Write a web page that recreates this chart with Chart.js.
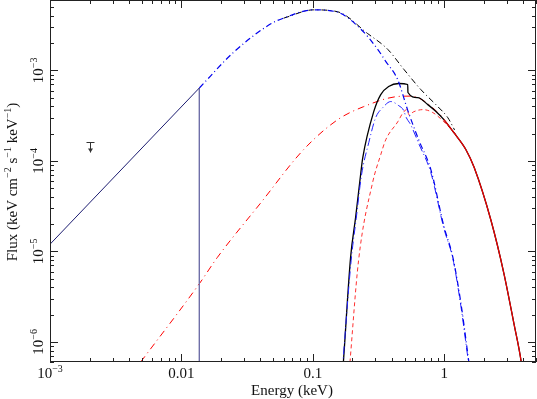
<!DOCTYPE html>
<html>
<head>
<meta charset="utf-8">
<script src="https://cdn.jsdelivr.net/npm/chart.js@4.4.0/dist/chart.umd.min.js"></script>
<style>
    html, body { margin: 0; padding: 0; background: #fff; }
    #wrap { width: 537px; height: 399px; }
</style>
</head>
<body>
<div id="wrap"><canvas id="spec" width="537" height="399"></canvas></div>
<script>
// Energy in keV, flux in keV cm^-2 s^-1 keV^-1

// power-law extension below the cut (solid) and the cut itself
const powE = [0.001, 0.0137];
const powF = [1.2e-5, 6.4e-4];
const cutE = [0.0137, 0.0137];
const cutF = [6.4e-4, 3e-7];

// cool component, unabsorbed (blue dash-dot)
const blueE = [0.0137, 0.0249, 0.0476, 0.0598, 0.1014, 0.1545, 0.232, 0.312, 0.359, 0.443, 0.529, 0.641, 0.792, 0.995, 1.165, 1.34, 1.52, 1.6];
const blueF = [6.4e-4, 1.58e-3, 3.25e-3, 3.78e-3, 4.67e-3, 4.4e-3, 2.86e-3, 1.71e-3, 1.26e-3, 7.9e-4, 3.6e-4, 1.7e-4, 8.0e-5, 1.9e-5, 8.6e-6, 2.7e-6, 7e-7, 4e-7];

// cool component, absorbed (blue dashed)
const blueAbsE = [0.168, 0.196, 0.214, 0.235, 0.267, 0.301, 0.341, 0.392, 0.451, 0.493, 0.51, 0.557, 0.641, 0.792, 0.995, 1.165, 1.34, 1.52, 1.6];
const blueAbsF = [5e-7, 8.0e-6, 2.3e-5, 7.0e-5, 1.6e-4, 3.0e-4, 3.88e-4, 4.53e-4, 4.08e-4, 3.59e-4, 3.1e-4, 2.5e-4, 1.55e-4, 7.4e-5, 1.8e-5, 8.3e-6, 2.5e-6, 6.5e-7, 4e-7];

// hot component, unabsorbed (red dash-dot)
const redE = [0.0049, 0.0137, 0.0188, 0.04, 0.085, 0.155, 0.244, 0.443, 0.55, 0.63, 0.75, 0.9, 1.0];
const redF = [6e-7, 4.4e-6, 8.6e-6, 3.41e-5, 1.33e-4, 2.86e-4, 3.98e-4, 5.15e-4, 5.2e-4, 5.0e-4, 4.3e-4, 3.4e-4, 2.9e-4];

// hot component, absorbed (red dashed)
const redAbsE = [0.19, 0.223, 0.286, 0.329, 0.359, 0.443, 0.493, 0.525, 0.538, 0.588, 0.689, 0.82, 0.995, 1.23];
const redAbsF = [5e-7, 7.9e-6, 5.85e-5, 1.17e-4, 1.71e-4, 2.7e-4, 3.5e-4, 3.7e-4, 3.24e-4, 3.5e-4, 3.69e-4, 3.42e-4, 2.71e-4, 1.95e-4];

// total, unabsorbed (black dash-dot)
const totE = [0.06, 0.1014, 0.1545, 0.262, 0.372, 0.493, 0.664, 0.895, 1.067, 1.2];
const totF = [3.78e-3, 4.67e-3, 4.45e-3, 2.55e-3, 1.71e-3, 1.03e-3, 6.15e-4, 3.98e-4, 3.0e-4, 2.2e-4];

// total, absorbed (black solid)
const totAbsE = [0.165, 0.171, 0.194, 0.212, 0.232, 0.240, 0.291, 0.329, 0.378, 0.451, 0.528, 0.530, 0.630, 0.751, 0.85, 0.995, 1.186, 1.465, 1.69, 2.27, 2.85, 3.40, 3.85, 4.0];
const totAbsF = [3e-7, 6e-7, 8.6e-6, 2.39e-5, 7.36e-5, 1.08e-4, 3.5e-4, 5.41e-4, 6.64e-4, 7.17e-4, 6.99e-4, 5.7e-4, 5.0e-4, 4.19e-4, 3.6e-4, 2.86e-4, 2.05e-4, 1.33e-4, 8.5e-5, 2.21e-5, 5.7e-6, 1.58e-6, 6.15e-7, 4e-7];

// hot component at high energy (red solid)
const hotE = [0.995, 1.186, 1.465, 1.69, 2.27, 2.85, 3.40, 3.85, 4.0];
const hotF = [2.86e-4, 2.05e-4, 1.33e-4, 8.5e-5, 2.21e-5, 5.7e-6, 1.58e-6, 6.15e-7, 4e-7];

// upper limit data point
const limE = [0.002];
const limF = [1.63e-4];

const xTicks = [0.001, 0.01, 0.1, 1];
const xTickLabels = ['10^{−3}', '0.01', '0.1', '1'];
const yTicks = [1e-3, 1e-4, 1e-5, 1e-6];
const yTickLabels = ['10^{−3}', '10^{−4}', '10^{−5}', '10^{−6}'];

const SERIF = '"Liberation Serif", "DejaVu Serif", serif';

function pts(xs, ys) {
    return xs.map((x, i) => ({ x: x, y: ys[i] }));
}

function curve(label, xs, ys, color, dash, width) {
    return {
        label: label,
        data: pts(xs, ys),
        borderColor: color,
        borderWidth: width || 1,
        borderDash: dash || [],
        pointRadius: 0,
        fill: false,
        cubicInterpolationMode: 'monotone'
    };
}

// text with ^{...} superscripts
function richParts(str) {
    const parts = [];
    const re = /\^\{([^}]*)\}/g;
    let last = 0, m;
    while ((m = re.exec(str)) !== null) {
        if (m.index > last) parts.push({ t: str.slice(last, m.index), sup: false });
        parts.push({ t: m[1], sup: true });
        last = re.lastIndex;
    }
    if (last < str.length) parts.push({ t: str.slice(last), sup: false });
    return parts;
}

function drawRich(ctx, str, x, y, size) {
    const parts = richParts(str);
    const supSize = Math.round(size * 0.68);
    let w = 0;
    parts.forEach(p => {
        ctx.font = (p.sup ? supSize : size) + 'px ' + SERIF;
        p.w = ctx.measureText(p.t).width;
        w += p.w;
    });
    let cx = x - w / 2;
    ctx.textAlign = 'left';
    ctx.textBaseline = 'alphabetic';
    parts.forEach(p => {
        ctx.font = (p.sup ? supSize : size) + 'px ' + SERIF;
        ctx.fillText(p.t, cx, p.sup ? y - size * 0.42 : y);
        cx += p.w;
    });
}

function minorsOf(min, max) {
    const out = [];
    for (let d = Math.floor(Math.log10(min)); d <= Math.ceil(Math.log10(max)); d++) {
        for (let k = 1; k <= 9; k++) {
            const v = k * Math.pow(10, d);
            if (v >= min && v <= max) out.push({ v: v, major: k === 1 });
        }
    }
    return out;
}

const framePlugin = {
    id: 'frame',
    afterDatasetsDraw(chart) {
        const ctx = chart.ctx;
        const a = chart.chartArea;
        const xs = chart.scales.x;
        const ys = chart.scales.y;
        ctx.save();

        // upper limit marker
        const ux = Math.round(xs.getPixelForValue(limE[0])) + 0.5;
        const uy = Math.round(ys.getPixelForValue(limF[0])) + 0.5;
        ctx.strokeStyle = '#333';
        ctx.lineWidth = 1;
        ctx.beginPath();
        ctx.moveTo(ux - 4, uy); ctx.lineTo(ux + 4, uy);
        ctx.moveTo(ux, uy); ctx.lineTo(ux, uy + 10);
        ctx.stroke();
        ctx.beginPath();
        ctx.moveTo(ux - 2.5, uy + 6); ctx.lineTo(ux + 2.5, uy + 6); ctx.lineTo(ux, uy + 10); ctx.closePath();
        ctx.fillStyle = '#333';
        ctx.fill();

        // box
        ctx.strokeStyle = '#222';
        ctx.lineWidth = 1;
        ctx.strokeRect(a.left + 0.5, a.top + 0.5, a.right - a.left - 1, a.bottom - a.top - 1);

        // inward ticks on all four sides
        ctx.beginPath();
        minorsOf(xs.min, xs.max).forEach(t => {
            const px = Math.round(xs.getPixelForValue(t.v)) + 0.5;
            const len = t.major ? 8 : 4;
            ctx.moveTo(px, a.bottom); ctx.lineTo(px, a.bottom - len);
            ctx.moveTo(px, a.top); ctx.lineTo(px, a.top + len);
        });
        minorsOf(ys.min, ys.max).forEach(t => {
            const py = Math.round(ys.getPixelForValue(t.v)) + 0.5;
            const len = t.major ? 8 : 4;
            ctx.moveTo(a.left, py); ctx.lineTo(a.left + len, py);
            ctx.moveTo(a.right, py); ctx.lineTo(a.right - len, py);
        });
        ctx.stroke();

        // tick labels
        ctx.fillStyle = '#111';
        xTicks.forEach((v, i) => {
            drawRich(ctx, xTickLabels[i], xs.getPixelForValue(v), a.bottom + 16, 15);
        });
        yTicks.forEach((v, i) => {
            ctx.save();
            ctx.translate(a.left - 7, ys.getPixelForValue(v));
            ctx.rotate(-Math.PI / 2);
            drawRich(ctx, yTickLabels[i], 0, 0, 15);
            ctx.restore();
        });

        // axis titles
        drawRich(ctx, 'Energy (keV)', (a.left + a.right) / 2 - 1, 395, 15);
        ctx.save();
        ctx.translate(17, 182);
        ctx.rotate(-Math.PI / 2);
        drawRich(ctx, 'Flux (keV cm^{−2} s^{−1} keV^{−1})', 0, 0, 15);
        ctx.restore();

        ctx.restore();
    }
};

const dashDot = [6, 3, 1, 3];

// first dataset is drawn on top
new Chart(document.getElementById('spec'), {
    type: 'line',
    data: {
        datasets: [
            curve('hot', hotE, hotF, '#ee0000', [], 1.2),
            curve('power law', powE, powF, '#1c1c70', [], 1),
            Object.assign(curve('cut', cutE, cutF, '#7070a8', [], 1), { cubicInterpolationMode: 'default', tension: 0 }),
            curve('cool unabsorbed', blueE, blueF, '#0000ee', dashDot, 1.2),
            curve('cool absorbed', blueAbsE, blueAbsF, '#2020ff', [8, 3, 1, 3], 1),
            curve('total absorbed', totAbsE, totAbsF, '#000000', [], 1.3),
            curve('hot absorbed', redAbsE, redAbsF, '#ff3030', [4, 3], 1),
            curve('hot unabsorbed', redE, redF, '#ff0000', [7, 4, 1, 4], 1),
            curve('total unabsorbed', totE, totF, '#000000', dashDot, 1)
        ]
    },
    options: {
        responsive: false,
        animation: false,
        devicePixelRatio: 1,
        layout: { padding: { left: 50, right: 1, top: 0, bottom: 37 } },
        plugins: {
            legend: { display: false },
            tooltip: { enabled: false }
        },
        scales: {
            x: {
                type: 'logarithmic',
                min: 0.001,
                max: 5,
                ticks: { display: false },
                grid: { display: false, drawTicks: false },
                border: { display: false },
                afterFit: function(s) { s.height = 0; }
            },
            y: {
                type: 'logarithmic',
                min: 6e-7,
                max: 6e-3,
                ticks: { display: false },
                grid: { display: false, drawTicks: false },
                border: { display: false },
                afterFit: function(s) { s.width = 0; }
            }
        }
    },
    plugins: [framePlugin]
});
</script>
</body>
</html>
